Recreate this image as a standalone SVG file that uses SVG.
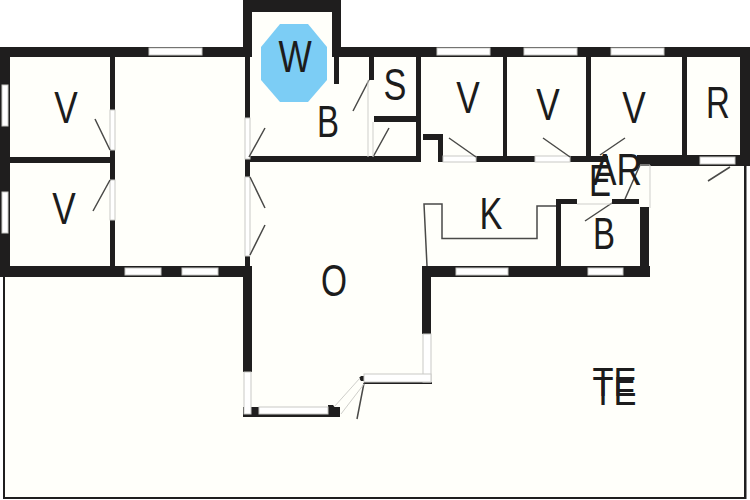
<svg xmlns="http://www.w3.org/2000/svg" width="750" height="500" viewBox="0 0 750 500">
<style>
.w{fill:#1f1e1e}
.g{fill:#fff;stroke:#c9c9c5;stroke-width:1}
.l{fill:none;stroke:#4a4a48;stroke-width:1.5}
.t{fill:none;stroke:#cfcfcb;stroke-width:1}
text{font-family:"Liberation Sans",Arial,sans-serif;font-size:44px;fill:#1c1c1c;text-anchor:middle}
</style>
<rect width="750" height="500" fill="#fff"/>
<g id="floor">
<path d="M4 47H243V0H341V47H746V498H4Z" fill="#fffffa"/>
<polygon points="280,24 308,24 327,47 327,80 308,102 280,102 261,80 261,47" fill="#7ccdf5"/>
</g>
<g id="walls">
<rect class="w" x="0" y="47" width="250" height="10"/>
<rect class="w" x="0" y="47" width="10" height="230"/>
<rect class="w" x="0" y="266" width="252" height="11"/>
<rect class="w" x="110" y="57" width="5" height="53"/>
<rect class="w" x="110" y="150" width="5" height="30"/>
<rect class="w" x="110" y="220" width="5" height="46"/>
<rect class="w" x="10" y="157" width="100" height="6"/>
<rect class="w" x="245" y="57" width="5" height="61"/>
<rect class="w" x="245" y="159" width="5" height="18"/>
<rect class="w" x="245" y="256" width="5" height="10"/>
<rect class="w" x="243" y="266" width="9" height="106"/>
<rect class="w" x="243" y="0" width="9" height="57"/>
<rect class="w" x="243" y="0" width="98" height="12"/>
<rect class="w" x="332" y="0" width="9" height="57"/>
<rect class="w" x="334" y="57" width="5" height="27"/>
<rect class="w" x="332" y="47" width="418" height="10"/>
<rect class="w" x="369" y="57" width="5" height="23"/>
<rect class="w" x="416" y="57" width="5" height="105"/>
<rect class="w" x="374" y="116" width="42" height="6"/>
<rect class="w" x="250" y="156" width="170" height="6"/>
<polygon class="w" points="423,134 443,134 443,162 438,162 438,140 423,140"/>
<rect class="w" x="476" y="156" width="59" height="6"/>
<rect class="w" x="570" y="156" width="38" height="6"/>
<rect class="w" x="503" y="57" width="4" height="99"/>
<rect class="w" x="586" y="57" width="5" height="99"/>
<rect class="w" x="682" y="57" width="5" height="98"/>
<rect class="w" x="740" y="47" width="10" height="118"/>
<rect class="w" x="637" y="155" width="113" height="11"/>
<rect class="w" x="422" y="266" width="228" height="11"/>
<rect class="w" x="422" y="266" width="9" height="68"/>
<rect class="w" x="640" y="207" width="9" height="70"/>
<rect class="w" x="556" y="199" width="5" height="67"/>
<rect class="w" x="556" y="199" width="21" height="5"/>
<rect class="w" x="612" y="199" width="27" height="5"/>
<rect class="w" x="243" y="407" width="97" height="10"/>
<polygon class="w" points="328,405 333,405 340,413 340,417 328,417"/>
<polygon class="w" points="361,376 364,376 364,381 361,381 359,378"/>
<rect class="w" x="364" y="382" width="68" height="2"/>
<rect class="w" x="3" y="277" width="2" height="222"/>
<rect class="w" x="744" y="165" width="2.500" height="334"/>
<rect class="w" x="3" y="497" width="743" height="2"/>
</g>
<g id="windows">
<rect class="g" x="149" y="48" width="53" height="7"/>
<rect class="g" x="2" y="85" width="6" height="41"/>
<rect class="g" x="2" y="192" width="6" height="41"/>
<rect class="g" x="125" y="268" width="36" height="7"/>
<rect class="g" x="182" y="268" width="36" height="7"/>
<rect class="g" x="437" y="48" width="53" height="7"/>
<rect class="g" x="524" y="48" width="53" height="7"/>
<rect class="g" x="611" y="48" width="53" height="7"/>
<rect class="g" x="700" y="157" width="35" height="7"/>
<rect class="g" x="456" y="268" width="52" height="7"/>
<rect class="g" x="588" y="268" width="35" height="7"/>
<rect class="g" x="244" y="372" width="7" height="42"/>
<rect class="g" x="259" y="407" width="69" height="7"/>
<rect class="g" x="423" y="334" width="8" height="48"/>
<rect class="g" x="364" y="374" width="67" height="8"/>
<rect class="g" x="110" y="110" width="5" height="40"/>
<rect class="g" x="110" y="180" width="5" height="40"/>
<rect class="g" x="245" y="118" width="5" height="41"/>
<rect class="g" x="245" y="177" width="5" height="79"/>
<rect class="g" x="443" y="156" width="33" height="6"/>
<rect class="g" x="535" y="156" width="35" height="6"/>
</g>
<g id="connectors">
<path class="l" d="M95 119L110 150M110 180L93 211M353 111L369 80M249 157L265 128M373 157L389 128M449 138L476 157M543 138L570 157M625 138L600 155M730 167L708 181M250 177L265 208M250 255L265 225M585 221L612 203M625 199L640 165M364 383L357 419"/>
<path class="l" d="M427 266L424 204H442V238.500H537V206H556"/>
<path class="t" d="M368 80V157M373 122V157M577 204H612M650 165V208M640 165H650M334 407L360 378M341 414L364 384"/>
</g>
<g id="labels">
<text transform="translate(66 123) scale(.8 1)">V</text>
<text transform="translate(64 224) scale(.8 1)">V</text>
<text transform="translate(295 72) scale(.8 1)">W</text>
<text transform="translate(328 137) scale(.75 1)">B</text>
<text transform="translate(395 100) scale(.78 1)">S</text>
<text transform="translate(468 113) scale(.8 1)">V</text>
<text transform="translate(548 120) scale(.8 1)">V</text>
<text transform="translate(634 123) scale(.8 1)">V</text>
<text transform="translate(718 118) scale(.75 1)">R</text>
<text transform="translate(617.500 185) scale(.8 1)">AR</text>
<text transform="translate(600 196) scale(.75 1)">E</text>
<text transform="translate(491 229) scale(.78 1)">K</text>
<text transform="translate(604 249) scale(.75 1)">B</text>
<text transform="translate(334 296) scale(.76 1)">O</text>
<text transform="translate(614.500 396) scale(.84 1)" style="font-size:41px">TE</text>
<text transform="translate(614.500 405) scale(.84 1)" style="font-size:41px">TE</text>
</g>
</svg>
